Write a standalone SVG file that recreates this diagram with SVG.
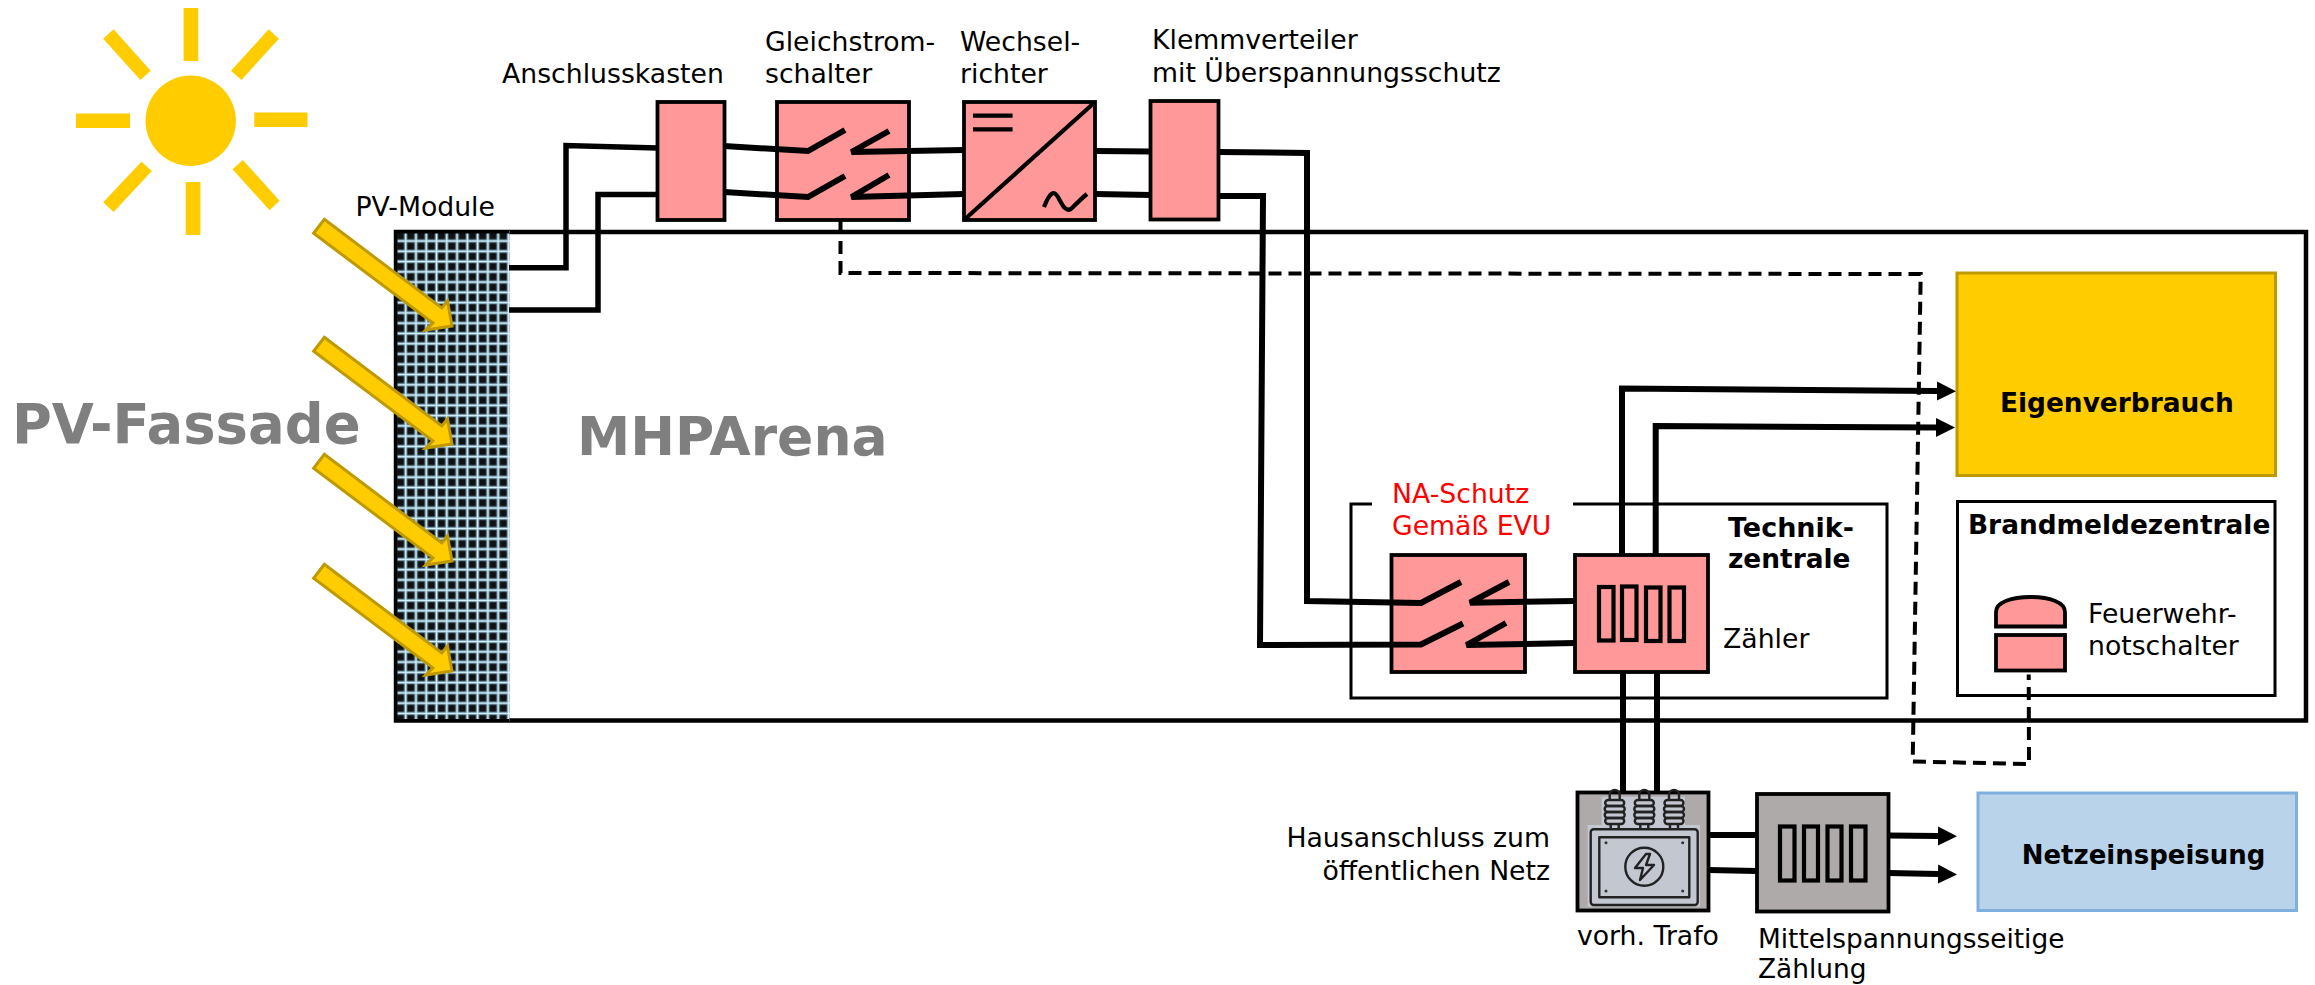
<svg xmlns="http://www.w3.org/2000/svg" width="2315" height="985" viewBox="0 0 2315 985">
<style>
text{font-family:"DejaVu Sans","Liberation Sans",sans-serif;font-size:26.7px;fill:#000}
.b{font-weight:bold;font-size:26.4px}
.big{font-weight:bold;font-size:54.4px;fill:#7f7f7f}
.red{fill:#f00}
.sun{fill:#ffcc00}
.ray{fill:#ffcc00;stroke:#bf9900;stroke-width:3}
.box{fill:#ff9999;stroke:#000;stroke-width:3.8}
.gray{fill:#aeaaaa;stroke:#000;stroke-width:3.8}
.in{fill:none;stroke:#000;stroke-width:4.2}
.thin{fill:#fff;stroke:#000;stroke-width:3}
.w{fill:none;stroke:#000;stroke-width:5.5}
.bl{fill:none;stroke:#000;stroke-width:6}
.d{fill:none;stroke:#000;stroke-width:4;stroke-dasharray:13 7}
.ic{fill:none;stroke:#222;stroke-width:2.4;stroke-linejoin:round}
</style>
<defs>
<pattern id="pv" patternUnits="userSpaceOnUse" x="400.57" y="235.87" width="10.27" height="10.27">
<rect width="10.27" height="10.27" fill="#111"/>
<rect x="3.4" width="3.4" height="10.27" fill="#6b93a5"/>
<rect y="3.4" width="10.27" height="3.4" fill="#6b93a5"/>
<rect x="4.5" width="1.3" height="10.27" fill="#d8f3ff"/>
<rect y="4.5" width="10.27" height="1.3" fill="#d8f3ff"/>
</pattern>
<marker id="ah" markerUnits="userSpaceOnUse" markerWidth="20" markerHeight="20" refX="0" refY="10" orient="auto">
<path d="M0 0.5L19 10L0 19.5Z" fill="#000"/>
</marker>
<polygon id="ray" class="ray" points="324.3,219.3 441.8,308 447.5,301 452,326 425.7,330 432.9,322.8 313.6,233.3"/>
<g id="bush">
<path class="ic" d="M-5 -28V-33A5 5 0 0 1 5 -33V-28"/>
<rect class="ic" x="-9.5" y="-28" width="19" height="6" rx="3"/>
<rect class="ic" x="-10" y="-22" width="20" height="6" rx="3"/>
<rect class="ic" x="-10" y="-16" width="20" height="6" rx="3"/>
<rect class="ic" x="-9.5" y="-10" width="19" height="6" rx="3"/>
<path class="ic" d="M-4 -4V1M4 -4V1"/>
</g>
</defs>
<rect width="2315" height="985" fill="#fff"/>

<g id="sun">
<circle class="sun" cx="190.7" cy="120.7" r="45.2"/>
<rect class="sun" x="183.6" y="8" width="14.6" height="53"/>
<rect class="sun" x="185.7" y="182" width="14.7" height="53"/>
<rect class="sun" x="76" y="113.5" width="54" height="14.5"/>
<rect class="sun" x="254.3" y="112.5" width="53.2" height="14.5"/>
<polygon class="sun" points="103.2,38.7 113.6,29.3 150.7,70.7 140.4,80"/>
<polygon class="sun" points="268.6,29.3 278.9,38.7 241.4,80 231,70.7"/>
<polygon class="sun" points="141.4,161.7 151.8,171 113.6,212 103.2,202.3"/>
<polygon class="sun" points="242.9,160 279.6,200.7 269.6,210.3 232.5,169.3"/>
</g>

<g id="mhparena">
<rect x="396" y="232" width="1910" height="488.5" fill="#fff" stroke="#000" stroke-width="4.5"/>
<text class="big" x="577" y="455" style="font-size:53.5px">MHPArena</text>
</g>
<text class="big" x="12" y="443">PV-Fassade</text>

<g id="pv-module">
<rect x="395" y="231" width="114.5" height="490" fill="url(#pv)"/>
<path d="M509 232H396V720.5H509" stroke="#000" stroke-width="3" fill="none"/>
<text x="355.5" y="216">PV-Module</text>
</g>

<g id="anschlusskasten">
<rect class="box" x="657.5" y="102" width="67" height="118"/>
<text x="502" y="82.7">Anschlusskasten</text>
</g>
<g id="gleichstromschalter">
<rect class="box" x="777" y="102" width="132" height="118"/>
<text x="765" y="50.7">Gleichstrom-</text>
<text x="765" y="82.7">schalter</text>
</g>
<g id="wechselrichter">
<rect class="box" x="964" y="102" width="131" height="118"/>
<path class="in" d="M964 220L1095 102"/>
<path class="in" d="M973 115.7H1012.6M973 129.3H1012.6"/>
<path class="in" d="M1044 207C1050 192 1054 190 1058 197S1066 214 1072 208S1082 198 1087 194"/>
<text x="960" y="50.7">Wechsel-</text>
<text x="960" y="82.7">richter</text>
</g>
<g id="klemmverteiler">
<rect class="box" x="1150.5" y="101" width="68" height="118.5"/>
<text x="1152" y="49.3">Klemmverteiler</text>
<text x="1152" y="81.7">mit Überspannungsschutz</text>
</g>

<g id="technikzentrale">
<polyline points="1372,504 1351,504 1351,698 1887,698 1887,504 1573,504" fill="none" stroke="#000" stroke-width="3"/>
<text class="b" x="1728" y="536.7" style="font-size:27px">Technik-</text>
<text class="b" x="1728" y="568.3">zentrale</text>
<text x="1723" y="647.7">Zähler</text>
<text class="red" x="1392" y="503.3">NA-Schutz</text>
<text class="red" x="1392" y="535">Gemäß EVU</text>
</g>
<g id="na-schutz">
<rect class="box" x="1391.5" y="555" width="133.5" height="117"/>
</g>
<g id="zaehler">
<rect class="box" x="1575" y="555" width="133" height="117"/>
<rect class="in" x="1599" y="587" width="14.5" height="53.5"/>
<rect class="in" x="1622" y="586.5" width="14.5" height="53.5"/>
<rect class="in" x="1646" y="587.5" width="14.5" height="53.5"/>
<rect class="in" x="1669.5" y="587.5" width="14.5" height="53.5"/>
</g>

<g id="eigenverbrauch">
<rect x="1957" y="273" width="318.5" height="202.5" fill="#ffcc00" stroke="#bf9900" stroke-width="3"/>
<text class="b" x="2000" y="412">Eigenverbrauch</text>
</g>
<g id="brandmeldezentrale">
<rect class="thin" x="1957.5" y="501.5" width="317.5" height="194"/>
<text class="b" x="1968" y="534">Brandmeldezentrale</text>
<text x="2088" y="623">Feuerwehr-</text>
<text x="2088" y="655">notschalter</text>
</g>
<g id="feuerwehrnotschalter">
<path class="box" d="M1996 626.5V612C1996 602 2012 597 2030.5 597S2065 602 2065 612V626.5Z"/>
<rect class="box" x="1996" y="635" width="69" height="35.5"/>
</g>

<g id="trafo">
<rect class="gray" x="1577.5" y="792.5" width="131" height="118"/>
<rect x="1601.7" y="796.7" width="83.3" height="30" fill="#c3c7d0"/>
<rect x="1587.7" y="825" width="112.3" height="81.7" fill="#c3c7d0"/>
<use href="#bush" x="1614.7" y="828"/>
<use href="#bush" x="1644.3" y="828"/>
<use href="#bush" x="1674" y="828"/>
<rect class="ic" x="1590.7" y="829.3" width="107" height="75.7" rx="3"/>
<rect class="ic" x="1599.3" y="837.3" width="90" height="60"/>
<circle class="ic" cx="1644.3" cy="866.7" r="19"/>
<path class="ic" d="M1646 854L1635 868H1643L1640 880L1654 865H1646L1650 854Z"/>
<g fill="#333"><circle cx="1606" cy="842.7" r="1.5"/><circle cx="1682.7" cy="842.7" r="1.5"/><circle cx="1606" cy="891" r="1.5"/><circle cx="1682.7" cy="891" r="1.5"/></g>
<text x="1577" y="945">vorh. Trafo</text>
<text x="1550" y="847.3" text-anchor="end">Hausanschluss zum</text>
<text x="1550" y="880" text-anchor="end">öffentlichen Netz</text>
</g>
<g id="mittelspannungszaehlung">
<rect class="gray" x="1757" y="794" width="131.5" height="117.5"/>
<rect class="in" x="1780" y="826.5" width="14.5" height="54"/>
<rect class="in" x="1804" y="826.5" width="14" height="54"/>
<rect class="in" x="1827.5" y="826.5" width="14" height="54"/>
<rect class="in" x="1851" y="826.5" width="14.5" height="54"/>
<text x="1758" y="948" style="font-size:26.4px">Mittelspannungsseitige</text>
<text x="1758" y="978" style="font-size:26.4px">Zählung</text>
</g>
<g id="netzeinspeisung">
<rect x="1978" y="793" width="318.5" height="117.5" fill="#b9d3ea" stroke="#7fb0dd" stroke-width="3"/>
<text class="b" x="2021.7" y="864" style="font-size:26px">Netzeinspeisung</text>
</g>

<g id="connectors">
<path class="w" d="M509 267.7H566V145.5L658 148"/>
<path class="w" d="M509 310H598V194.5H658"/>
<path class="bl" d="M724 146L808 151L845 130"/>
<path class="bl" d="M889 131L851.5 152L964 150"/>
<path class="bl" d="M724 192L808 197L845 176"/>
<path class="bl" d="M889 175L851.5 197L964 194"/>
<path class="bl" d="M1095 151L1151 151.5"/>
<path class="bl" d="M1095 194L1151 195"/>
<path class="bl" d="M1218 152L1307 153L1307 601L1421 603L1461 582"/>
<path class="bl" d="M1218 196H1263L1260 645L1421 644.5L1463 623.5"/>
<path class="bl" d="M1509 582L1470 602.7L1575 601"/>
<path class="bl" d="M1506 623L1466.5 645L1575 643"/>
<path class="bl" d="M1622 555V388.5L1937 391" marker-end="url(#ah)"/>
<path class="bl" d="M1655.7 555V426L1936 427.5" marker-end="url(#ah)"/>
<path class="bl" d="M1623 672V792"/>
<path class="bl" d="M1657 672V792"/>
<path class="bl" d="M1708.5 835H1757"/>
<path class="bl" d="M1708.5 870L1757 871"/>
<path class="bl" d="M1888.5 835.5L1938 836" marker-end="url(#ah)"/>
<path class="bl" d="M1888.5 873L1938 874" marker-end="url(#ah)"/>
<path class="d" d="M840.5 221V273L1920.7 274L1912.7 761.5L2029 764L2028.7 674.6"/>
</g>

<g id="einstrahlung">
<use href="#ray"/>
<use href="#ray" y="118"/>
<use href="#ray" y="235"/>
<use href="#ray" y="345"/>
</g>
</svg>
